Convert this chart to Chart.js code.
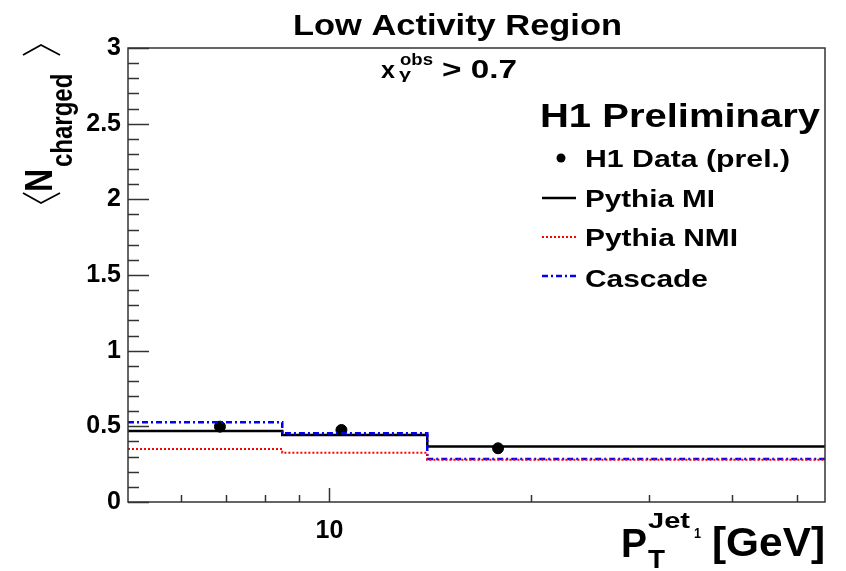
<!DOCTYPE html>
<html>
<head>
<meta charset="utf-8">
<script src="https://cdn.jsdelivr.net/npm/chart.js@4.4.0/dist/chart.umd.min.js"></script>
<style>
  body { margin: 0; background: #fff; }
  #wrap { width: 846px; height: 571px; }
</style>
</head>
<body>
<div id="wrap"><canvas id="chart"></canvas></div>
<script>
// Data

const binEdges = [5, 8.5, 14, 55];
const pythiaMI = [0.469, 0.443, 0.366];
const pythiaNMI = [0.35, 0.326, 0.28];
const cascade = [0.527, 0.454, 0.284];

const dataX = [6.86, 10.42, 17.86];
const dataY = [0.498, 0.476, 0.355];
const dataErr = [0.015, 0.016, 0.024];

const xMajorTicks = [10];
const xMinorTicks = [6, 7, 8, 9, 20, 30, 40, 50];

const FONT = '"Liberation Sans", Arial, Helvetica, sans-serif';

// histogram -> step points (last edge repeats last value)
function histPoints(values) {
    let pts = values.map((v, i) => ({ x: binEdges[i], y: v }));
    pts.push({ x: binEdges[binEdges.length - 1], y: values[values.length - 1] });
    return pts;
}

// the picture is a bit wider than the font, so stretch text to the measured width
function fitText(ctx, text, left, baseline, size, width) {
    ctx.font = 'bold ' + size + 'px ' + FONT;
    const w = ctx.measureText(text).width;
    ctx.save();
    ctx.translate(left, baseline);
    ctx.scale(width / w, 1);
    ctx.fillText(text, 0, 0);
    ctx.restore();
}

// Frame, ticks, error bars and all the text

const rootStyle = {
    id: 'rootStyle',
    afterDatasetsDraw(chart) {
        const ctx = chart.ctx;
        const x = chart.scales.x;
        const y = chart.scales.y;
        // error bars
        ctx.save();
        ctx.strokeStyle = '#000';
        ctx.lineWidth = 2;
        dataX.forEach((v, i) => {
            const px = x.getPixelForValue(v);
            ctx.beginPath();
            ctx.moveTo(px, y.getPixelForValue(dataY[i] - dataErr[i]));
            ctx.lineTo(px, y.getPixelForValue(dataY[i] + dataErr[i]));
            ctx.stroke();
        });
        ctx.restore();
    },
    afterDraw(chart) {
        const ctx = chart.ctx;
        const a = chart.chartArea;
        const x = chart.scales.x;
        const y = chart.scales.y;

        ctx.save();
        ctx.strokeStyle = '#333';
        ctx.lineWidth = 1.5;
        ctx.strokeRect(a.left, a.top, a.right - a.left, a.bottom - a.top);

        // y ticks (inside, from the left axis)
        y.ticks.forEach(t => {
            const py = Math.round(y.getPixelForValue(t.value)) + 0.5;
            const major = Math.abs(t.value * 2 - Math.round(t.value * 2)) < 1e-6;
            const len = major ? 21 : 11;
            ctx.beginPath();
            ctx.moveTo(a.left, py);
            ctx.lineTo(a.left + len, py);
            ctx.stroke();
        });
        // x ticks (inside, up from the bottom axis)
        const xTick = (v, len) => {
            const px = Math.round(x.getPixelForValue(v)) + 0.5;
            ctx.beginPath();
            ctx.moveTo(px, a.bottom);
            ctx.lineTo(px, a.bottom - len);
            ctx.stroke();
        };
        xMajorTicks.forEach(v => xTick(v, 14));
        xMinorTicks.forEach(v => xTick(v, 7));
        ctx.restore();

        // texts
        ctx.save();
        ctx.fillStyle = '#000';
        ctx.textAlign = 'left';
        ctx.textBaseline = 'alphabetic';

        fitText(ctx, 'Low Activity Region', 293, 35, 30, 329);

        fitText(ctx, 'x', 381, 78, 24, 14);
        fitText(ctx, 'obs', 400, 65, 16, 33);
        fitText(ctx, '\u03b3', 399, 79, 15, 12);
        fitText(ctx, '> 0.7', 442, 78, 25, 75);

        fitText(ctx, 'H1 Preliminary', 540, 127, 33, 280);

        // legend
        fitText(ctx, 'H1 Data (prel.)', 585, 167, 24, 205);
        fitText(ctx, 'Pythia MI', 585, 207, 24, 130);
        fitText(ctx, 'Pythia NMI', 585, 246, 24, 153);
        fitText(ctx, 'Cascade', 585, 287, 24, 123);

        ctx.beginPath();
        ctx.arc(561, 158, 4.5, 0, Math.PI * 2);
        ctx.fill();

        const legendLine = (py, color, width, dash) => {
            ctx.save();
            ctx.strokeStyle = color;
            ctx.lineWidth = width;
            ctx.setLineDash(dash);
            ctx.beginPath();
            ctx.moveTo(542, py);
            ctx.lineTo(576, py);
            ctx.stroke();
            ctx.restore();
        };
        legendLine(198, '#000', 2.5, []);
        legendLine(237, '#ff0000', 2, [2, 2]);
        legendLine(276, '#0000ff', 2.5, [6, 3, 2, 3]);

        // x axis title
        fitText(ctx, 'P', 621, 557, 40, 26);
        fitText(ctx, 'T', 648, 568, 25, 17);
        fitText(ctx, 'Jet', 648, 528, 22, 42);
        fitText(ctx, '1', 694, 538, 14, 7);
        fitText(ctx, '[GeV]', 712, 556, 40, 113);

        // y axis title, rotated (glyphs taller across the page)
        ctx.save();
        ctx.translate(52, 192);
        ctx.rotate(-Math.PI / 2);
        ctx.scale(1, 1.22);
        ctx.font = 'bold 32px ' + FONT;
        ctx.fillText('N', 0, 0);
        ctx.font = 'bold 24px ' + FONT;
        ctx.fillText('charged', 25, 16.4);
        ctx.restore();

        // angle brackets of the y title
        ctx.strokeStyle = '#000';
        ctx.lineWidth = 1.8;
        ctx.beginPath();
        ctx.moveTo(23, 55); ctx.lineTo(41, 45); ctx.lineTo(60, 55);
        ctx.moveTo(23, 193); ctx.lineTo(41, 203); ctx.lineTo(60, 193);
        ctx.stroke();
        ctx.restore();
    }
};

const chartCanvas = document.getElementById('chart');

let chart = new Chart(chartCanvas, {
    type: 'line',
    data: {
        datasets: [
            {
                label: 'Pythia NMI',
                data: histPoints(pythiaNMI),
                borderColor: '#ff0000',
                borderWidth: 2,
                borderDash: [2, 2],
                stepped: 'before',
                pointRadius: 0,
                fill: false
            },
            {
                label: 'Cascade',
                data: histPoints(cascade),
                borderColor: '#0000ff',
                borderWidth: 2.5,
                borderDash: [6, 3, 2, 3],
                stepped: 'before',
                pointRadius: 0,
                fill: false
            },
            {
                label: 'Pythia MI',
                data: histPoints(pythiaMI),
                borderColor: '#000',
                borderWidth: 2.5,
                stepped: 'before',
                pointRadius: 0,
                fill: false
            },
            {
                type: 'scatter',
                label: 'H1 Data (prel.)',
                data: dataX.map((v, i) => ({ x: v, y: dataY[i] })),
                backgroundColor: '#000',
                borderColor: '#000',
                pointRadius: 5.5,
                showLine: false
            }
        ]
    },
    options: {
        responsive: true,
        maintainAspectRatio: false,
        animation: { duration: 0 },
        layout: { padding: { left: 0, top: 48, right: 21, bottom: 0 } },
        scales: {
            x: {
                type: 'logarithmic',
                min: 5,
                max: 55,
                afterFit: s => { s.height = 69; },
                grid: { display: false, drawTicks: false },
                border: { display: false },
                ticks: {
                    autoSkip: false,
                    maxRotation: 0,
                    padding: 14,
                    color: '#000',
                    font: { family: FONT, size: 25, weight: 'bold' },
                    callback: v => xMajorTicks.includes(v) ? String(v) : ''
                }
            },
            y: {
                min: 0,
                max: 3,
                afterFit: s => { s.width = 128; },
                grid: { display: false, drawTicks: false },
                border: { display: false },
                ticks: {
                    stepSize: 0.1,
                    autoSkip: false,
                    padding: 7,
                    color: '#000',
                    font: { family: FONT, size: 25, weight: 'bold' },
                    callback: v => Math.abs(v * 2 - Math.round(v * 2)) < 1e-6 ? String(Math.round(v * 10) / 10) : ''
                }
            }
        },
        plugins: {
            legend: { display: false },
            tooltip: { enabled: false }
        }
    },
    plugins: [rootStyle]
});
</script>
</body>
</html>
